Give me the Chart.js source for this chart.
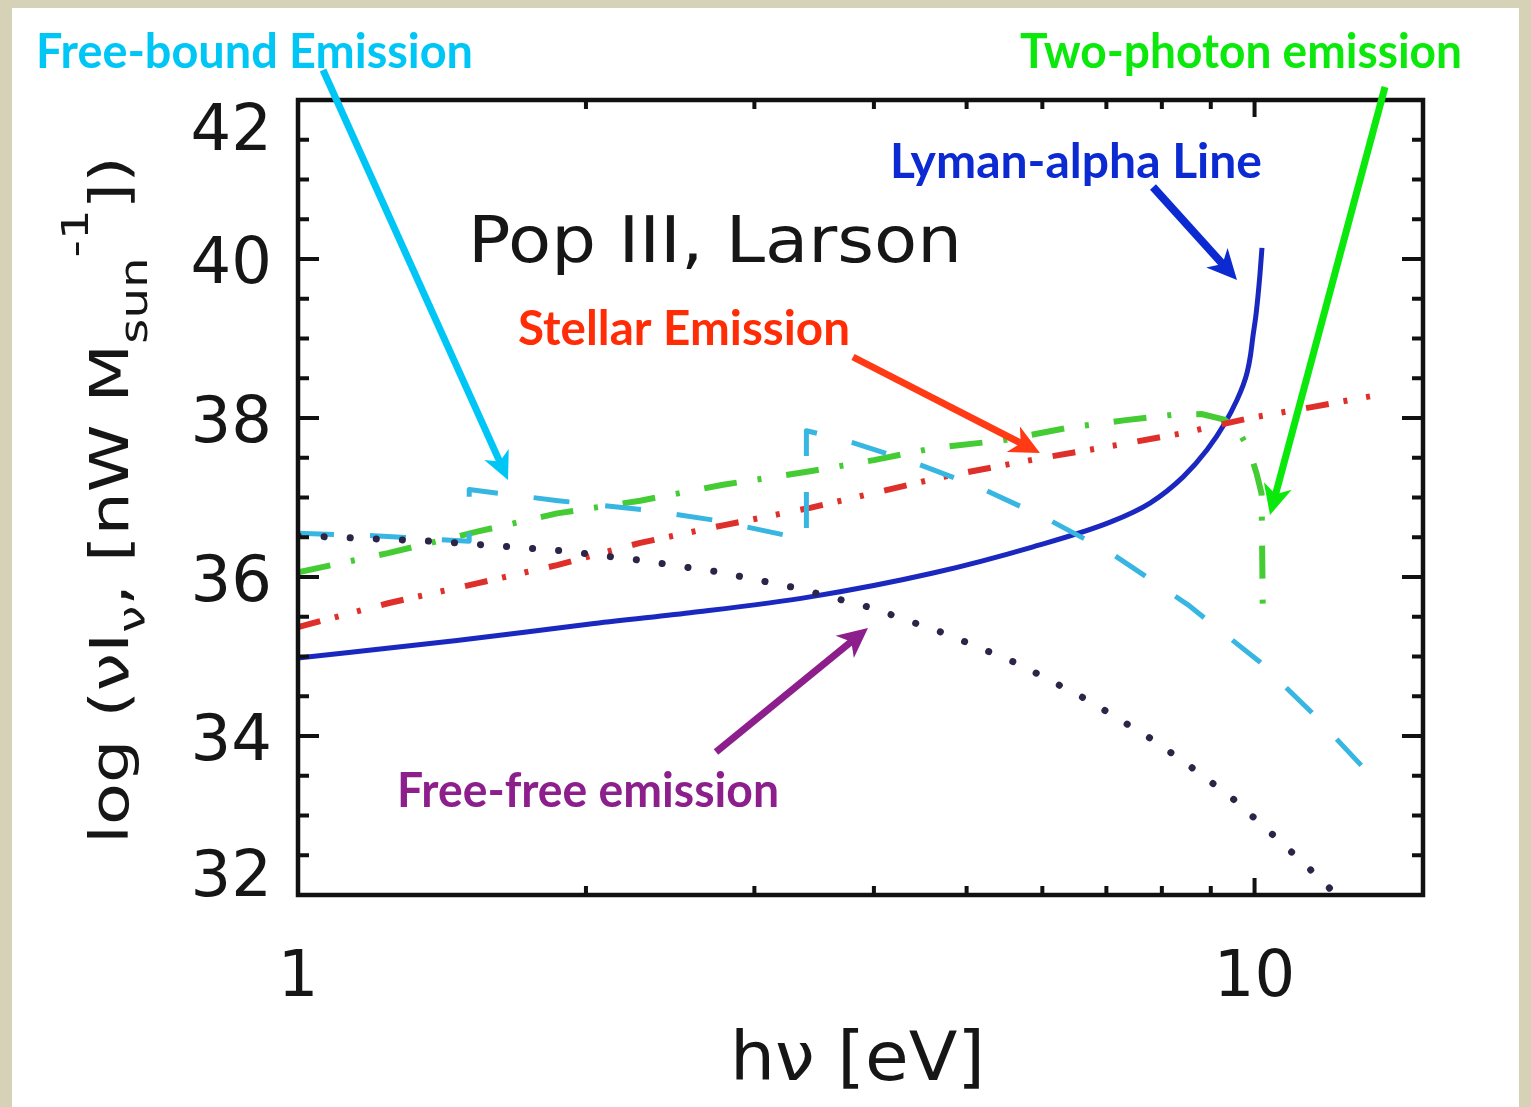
<!DOCTYPE html>
<html>
<head>
<meta charset="utf-8">
<title>Pop III, Larson</title>
<script src="https://cdn.jsdelivr.net/npm/chart.js@4.4.0/dist/chart.umd.min.js"></script>
<style>
  html, body { margin: 0; padding: 0; background: #d9d5bd; }
  canvas { display: block; }
</style>
</head>
<body>
<canvas id="spectrum" width="1531" height="1107"></canvas>
<script>
// photon energy h nu [eV] and log (nu I_nu) for each emission component
var lyaE = [1.0, 1.466, 2.02, 2.57, 3.43, 4.612, 5.868, 7.064, 7.775, 8.421, 8.92, 9.316, 9.588, 9.72, 9.822, 9.9, 9.964, 10.03, 10.08, 10.13, 10.18];
var lyaL = [34.98, 35.2, 35.41, 35.55, 35.75, 36.05, 36.38, 36.69, 36.93, 37.26, 37.6, 37.94, 38.23, 38.4, 38.57, 38.78, 39.04, 39.28, 39.52, 39.8, 40.14];

var stellarE = [1.0, 1.242, 1.539, 1.866, 2.279, 2.782, 3.43, 4.725, 6.009, 7.184, 8.42, 9.89, 11.51, 13.6];
var stellarL = [35.37, 35.67, 35.92, 36.15, 36.43, 36.65, 36.87, 37.26, 37.5, 37.66, 37.81, 38.0, 38.14, 38.3];

var twoPhotonE = [1.0, 1.242, 1.539, 1.866, 2.279, 2.782, 3.43, 4.0, 4.61, 5.46, 6.4, 7.3, 8.2, 8.8, 9.3, 9.65, 9.87, 10.05, 10.17, 10.2];
var twoPhotonL = [36.06, 36.30, 36.57, 36.80, 36.96, 37.16, 37.33, 37.47, 37.62, 37.72, 37.88, 37.97, 38.04, 38.05, 37.98, 37.81, 37.6, 37.3, 37.05, 35.6];

var freeBoundE = [1.0, 1.2, 1.51, 1.51, 1.87, 2.32, 2.74, 3.4, 3.4, 3.51, 3.8, 4.36, 5.13, 6.05, 7.06, 8.52, 10.13, 11.51, 13.02, 13.6];
var freeBoundL = [36.55, 36.52, 36.45, 37.1, 36.96, 36.84, 36.71, 36.47, 37.84, 37.8, 37.69, 37.46, 37.14, 36.74, 36.31, 35.65, 34.93, 34.28, 33.59, 33.36];

var freeFreeE = [1.0, 1.384, 1.666, 1.893, 2.279, 2.762, 3.325, 3.982, 4.77, 5.657, 6.699, 7.833, 8.56, 9.474, 10.38, 11.37, 11.99, 13.6];
var freeFreeL = [36.52, 36.45, 36.38, 36.33, 36.21, 36.06, 35.86, 35.61, 35.28, 34.91, 34.45, 33.95, 33.62, 33.22, 32.79, 32.35, 32.08, 31.45];

// axis ticks
var yTickValues = [32, 34, 36, 38, 40, 42];
var xTickLabels = [1, 10];
var xMinorTicks = [2, 3, 4, 5, 6, 7, 8, 9];

function series(label, xs, ys, color, width, dash, extra) {
  return Object.assign({
    label: label,
    data: xs.map(function (x, i) { return { x: x, y: ys[i] }; }),
    borderColor: color,
    borderWidth: width,
    borderDash: dash,
    borderJoinStyle: 'round',
    pointRadius: 0,
    fill: false,
    tension: 0
  }, extra || {});
}

function fitText(ctx, str, x, y, w, font, color) {
  ctx.save();
  ctx.font = font;
  ctx.fillStyle = color;
  ctx.textAlign = 'left';
  ctx.textBaseline = 'alphabetic';
  var m = ctx.measureText(str).width;
  ctx.translate(x, y);
  ctx.scale(w / m, 1);
  ctx.fillText(str, 0, 0);
  ctx.restore();
}

function arrow(ctx, x1, y1, x2, y2, color, lw, hl) {
  var ang = Math.atan2(y2 - y1, x2 - x1);
  var c = Math.cos(ang), s = Math.sin(ang);
  var hw = hl * 0.48;
  ctx.save();
  ctx.strokeStyle = color;
  ctx.fillStyle = color;
  ctx.lineWidth = lw;
  ctx.lineCap = 'butt';
  ctx.beginPath();
  ctx.moveTo(x1, y1);
  ctx.lineTo(x2 - c * hl * 0.7, y2 - s * hl * 0.7);
  ctx.stroke();
  ctx.beginPath();
  ctx.moveTo(x2, y2);
  ctx.lineTo(x2 - c * hl - s * hw, y2 - s * hl + c * hw);
  ctx.lineTo(x2 - c * hl * 0.72, y2 - s * hl * 0.72);
  ctx.lineTo(x2 - c * hl + s * hw, y2 - s * hl - c * hw);
  ctx.closePath();
  ctx.fill();
  ctx.restore();
}

// beige mount with the white sheet on top
var paper = {
  id: 'paper',
  beforeDraw: function (chart) {
    var ctx = chart.ctx;
    ctx.save();
    ctx.fillStyle = '#d6d2b8';
    ctx.fillRect(0, 0, chart.width, chart.height);
    ctx.fillStyle = '#ffffff';
    ctx.fillRect(12, 8, 1507, chart.height - 8);
    ctx.restore();
  }
};

// IDL style box with inward ticks on all four sides
var frame = {
  id: 'frame',
  afterDatasetsDraw: function (chart) {
    var ctx = chart.ctx, a = chart.chartArea;
    var xs = chart.scales.x, ys = chart.scales.y;
    ctx.save();
    ctx.strokeStyle = '#111';
    ctx.lineWidth = 4;
    ctx.lineCap = 'butt';
    ctx.beginPath();
    for (var v = 32; v <= 42.001; v += 0.5) {
      var py = ys.getPixelForValue(v);
      var len = yTickValues.indexOf(v) >= 0 ? 21 : 11;
      ctx.moveTo(a.left, py); ctx.lineTo(a.left + len, py);
      ctx.moveTo(a.right, py); ctx.lineTo(a.right - len, py);
    }
    xMinorTicks.concat(xTickLabels).forEach(function (t) {
      var px = xs.getPixelForValue(t);
      var len = xTickLabels.indexOf(t) >= 0 ? 17 : 9;
      ctx.moveTo(px, a.bottom); ctx.lineTo(px, a.bottom - len);
      ctx.moveTo(px, a.top); ctx.lineTo(px, a.top + len);
    });
    ctx.stroke();
    ctx.lineWidth = 4.5;
    ctx.strokeRect(a.left, a.top, a.right - a.left, a.bottom - a.top);
    ctx.restore();
  }
};

var labels = {
  id: 'labels',
  afterDraw: function (chart) {
    var ctx = chart.ctx, a = chart.chartArea;
    var xs = chart.scales.x, ys = chart.scales.y;
    var tickFont = '64px "DejaVu Sans"';
    ctx.save();
    ctx.fillStyle = '#161616';
    ctx.font = tickFont;
    ctx.textAlign = 'right';
    ctx.textBaseline = 'alphabetic';
    yTickValues.forEach(function (v) {
      var base = ys.getPixelForValue(v) + 24;
      base = Math.max(a.top + 50, Math.min(a.bottom + 1, base));
      ctx.fillText(String(v), 272, base);
    });
    ctx.textAlign = 'center';
    xTickLabels.forEach(function (v) {
      ctx.fillText(String(v), xs.getPixelForValue(v), 996);
    });
    ctx.restore();

    // axis titles
    fitText(ctx, 'h\u03bd [eV]', 730, 1080, 255, '68px "DejaVu Sans"', '#161616');

    var big = '54px "DejaVu Sans"', small = '38px "DejaVu Sans"';
    var parts = [
      ['log (\u03bdI', big, 0],
      ['\u03bd', small, 17],
      [', [nW M', big, 0],
      ['sun', small, 19],
      ['-1', small, -40],
      ['])', big, 0]
    ];
    ctx.save();
    var total = 0;
    parts.forEach(function (p) { ctx.font = p[1]; p.push(ctx.measureText(p[0]).width); total += p[3]; });
    ctx.translate(128, 844);
    ctx.rotate(-Math.PI / 2);
    ctx.scale(688 / total, 1);
    ctx.fillStyle = '#161616';
    ctx.textBaseline = 'alphabetic';
    var pos = 0;
    parts.forEach(function (p) {
      ctx.font = p[1];
      ctx.fillText(p[0], pos, p[2]);
      pos += p[3];
    });
    ctx.restore();

    fitText(ctx, 'Pop III, Larson', 468, 262, 494, '64px "DejaVu Sans"', '#161616');

    // annotations
    var lab = 'bold 48px Lato';
    fitText(ctx, 'Free-bound Emission', 36, 68, 437, lab, '#00c6f5');
    arrow(ctx, 323, 70, 508, 480, '#00c6f5', 7, 28);

    fitText(ctx, 'Two-photon emission', 1020, 68, 442, lab, '#0be80b');
    arrow(ctx, 1385, 87, 1270, 515, '#0be80b', 7, 30);

    fitText(ctx, 'Lyman-alpha Line', 890, 178, 372, lab, '#0c2ad2');
    arrow(ctx, 1153, 187, 1237, 280, '#0c2ad2', 8, 30);

    fitText(ctx, 'Stellar Emission', 518, 345, 332, lab, '#ff2c06');
    arrow(ctx, 853, 357, 1040, 453, '#ff3a14', 7, 30);

    fitText(ctx, 'Free-free emission', 397, 807, 382, lab, '#8d1f8d');
    arrow(ctx, 716, 752, 868, 628, '#8d1f8d', 7, 30);
  }
};

var ctx = document.getElementById('spectrum').getContext('2d');
new Chart(ctx, {
  type: 'line',
  data: {
    datasets: [
      series('Free-free', freeFreeE, freeFreeL, '#2e2448', 7, [0.1, 26], { borderCapStyle: 'round', clip: 0 }),
      series('Free-bound', freeBoundE, freeBoundL, '#38b6e2', 5, [36, 36], { clip: 0 }),
      series('Stellar', stellarE, stellarL, '#de2f2a', 6, [23, 15, 4, 19, 4, 21], { clip: 0 }),
      series('Two-photon', twoPhotonE, twoPhotonL, '#45cc35', 6, [33, 21, 4, 25], { clip: 0 }),
      series('Lyman-alpha', lyaE, lyaL, '#1a28c0', 5, [], { cubicInterpolationMode: 'monotone', clip: 0 })
    ]
  },
  options: {
    responsive: false,
    devicePixelRatio: 1,
    animation: false,
    events: [],
    layout: { padding: { top: 100, right: 108, left: 0, bottom: 0 } },
    plugins: { legend: { display: false }, tooltip: { enabled: false } },
    scales: {
      x: {
        type: 'logarithmic',
        min: 1,
        max: 15,
        grid: { display: false },
        border: { display: false },
        ticks: { display: false },
        afterFit: function (s) { s.height = 212; }
      },
      y: {
        type: 'linear',
        min: 32,
        max: 42,
        grid: { display: false },
        border: { display: false },
        ticks: { display: false },
        afterFit: function (s) { s.width = 298; }
      }
    }
  },
  plugins: [paper, frame, labels]
});
</script>
</body>
</html>
